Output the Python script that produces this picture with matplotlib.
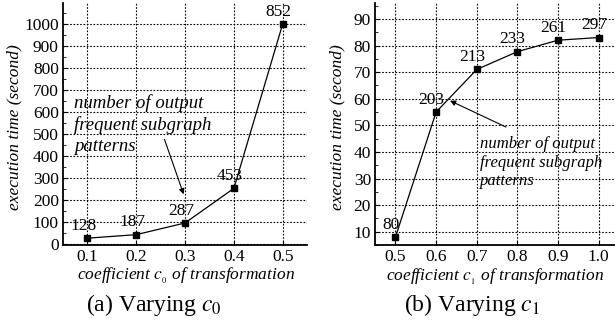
import matplotlib.pyplot as plt
from matplotlib.ticker import MultipleLocator

# --- DATA ---
c0_values = [0.1, 0.2, 0.3, 0.4, 0.5]
c0_times = [28, 44, 97, 254, 1000]
c0_patterns = ["128", "187", "287", "453", "852"]

c1_values = [0.5, 0.6, 0.7, 0.8, 0.9, 1.0]
c1_times = [8, 55, 71, 77.7, 82, 83]
c1_patterns = ["80", "203", "213", "233", "261", "297"]

plt.rcParams['font.family'] = ['Liberation Serif', 'DejaVu Serif']
plt.rcParams['mathtext.fontset'] = 'stix'

fig = plt.figure(figsize=(6.15, 3.28), dpi=100)
ax1 = fig.add_axes([0.1024, 0.253, 0.397, 0.738])
ax2 = fig.add_axes([0.610, 0.253, 0.390, 0.738])

NOTE = "number of output\nfrequent subgraph\npatterns"


def style_axes(ax):
    for side in ['top', 'right']:
        ax.spines[side].set_visible(False)
    for side in ['left', 'bottom']:
        ax.spines[side].set_linewidth(1.3)
    ax.grid(True, color='black', linestyle=(0, (1.5, 1.5)), linewidth=0.8)
    ax.set_axisbelow(True)
    ax.tick_params(direction='in', length=3, labelsize=12.5, pad=3)
    ax.tick_params(axis='y', which='minor', direction='in', length=2)
    ax.tick_params(axis='x', which='minor', bottom=False)


# --- (a) varying c0 ---
ax1.plot(c0_values, c0_times, color='black', linewidth=0.9, marker='s',
         markersize=5, zorder=3)
for x, y, lab in zip(c0_values, c0_times, c0_patterns):
    ax1.annotate(lab, (x, y), xytext=(-3, 3), textcoords='offset points',
                 ha='center', va='bottom', fontsize=12.5)
ax1.set_xlim(0.05, 0.55)
ax1.set_ylim(-3, 1095)
ax1.set_xticks(c0_values)
ax1.set_xticklabels(["0.1", "0.2", "0.3", "0.4", "0.5"])
ax1.yaxis.set_major_locator(MultipleLocator(100))
ax1.yaxis.set_minor_locator(MultipleLocator(50))
style_axes(ax1)
ax1.set_xlabel(r"coefficient $c_{_0}$ of transformation", style='italic',
               fontsize=12.5)
ax1.set_ylabel("execution time (second)", style='italic', fontsize=12.5)
ax1.xaxis.set_label_coords(0.504, -0.088)
ax1.yaxis.set_label_coords(-0.165, 0.488)
ax1.text(0.072, 545, NOTE, style='italic', fontsize=13.5, ha='left',
         va='center', linespacing=1.3)
ax1.annotate("", xy=(0.299, 215), xytext=(0.256, 488),
             arrowprops=dict(arrowstyle='-|>', color='black', lw=0.8,
                             mutation_scale=8))

# --- (b) varying c1 ---
ax2.plot(c1_values, c1_times, color='black', linewidth=0.9, marker='s',
         markersize=5, zorder=3)
for x, y, lab in zip(c1_values, c1_times, c1_patterns):
    ax2.annotate(lab, (x, y), xytext=(-3.5, 3), textcoords='offset points',
                 ha='center', va='bottom', fontsize=12.5)
ax2.set_xlim(0.45, 1.04)
ax2.set_ylim(5, 96)
ax2.set_xticks(c1_values)
ax2.set_xticklabels(["0.5", "0.6", "0.7", "0.8", "0.9", "1.0"])
ax2.yaxis.set_major_locator(MultipleLocator(10))
ax2.yaxis.set_minor_locator(MultipleLocator(5))
style_axes(ax2)
ax2.set_xlabel(r"coefficient $c_{_1}$ of transformation", style='italic',
               fontsize=12.5)
ax2.set_ylabel("execution time (second)", style='italic', fontsize=12.5)
ax2.xaxis.set_label_coords(0.5, -0.092)
ax2.yaxis.set_label_coords(-0.125, 0.488)
ax2.text(0.707, 36, NOTE, style='italic', fontsize=12, ha='left',
         va='center', linespacing=1.2)
ax2.annotate("", xy=(0.628, 59.7), xytext=(0.778, 48.9),
             arrowprops=dict(arrowstyle='-|>', color='black', lw=0.8,
                             mutation_scale=8))

# --- captions ---
fig.text(0.25, 0.07, r"(a) Varying $c_0$", ha='center', va='center',
         fontsize=17)
fig.text(0.768, 0.07, r"(b) Varying $c_1$", ha='center', va='center',
         fontsize=17)

fig.savefig("out.png", dpi=100)
